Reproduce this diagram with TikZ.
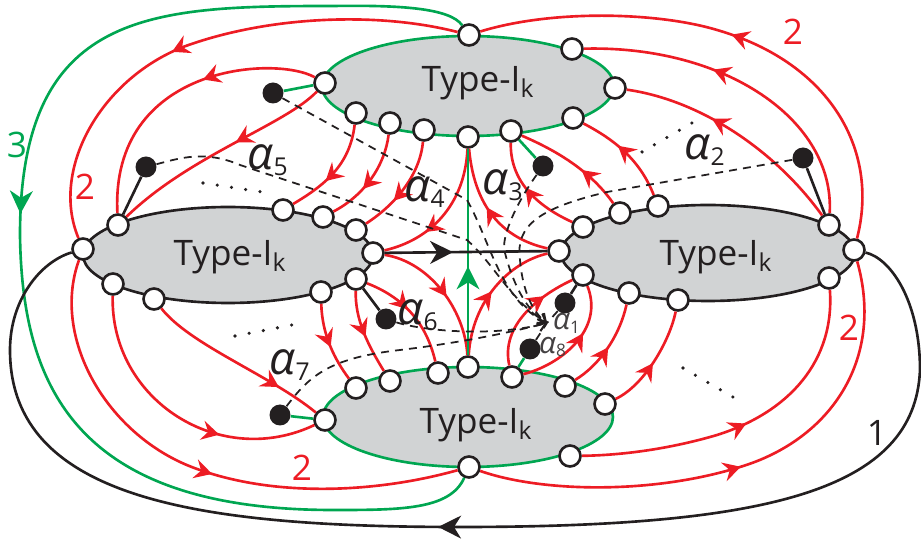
\documentclass[tikz,border=0pt]{standalone}
\usepackage{fontspec}
\setsansfont{Open Sans}
\usetikzlibrary{arrows.meta, decorations.markings, shapes.geometric}
\definecolor{redln}{HTML}{ED1C24}
\definecolor{grnln}{HTML}{00A651}
\definecolor{blkln}{HTML}{231F20}
\definecolor{blobfill}{HTML}{D1D3D4}
\newcommand{\typelabel}{\textsf{Type-I\textsubscript{k}}}
\newcommand{\alab}[1]{{\fontsize{26}{28}\selectfont\textit{α}}\textsubscript{#1}}
\newcommand{\alabsm}[1]{{\fontsize{17}{19}\selectfont\textit{α}}\textsubscript{#1}}
\tikzset{
    wire/.style={line width=1.5pt, blkln},
    midtip/.style={postaction={decorate}, decoration={markings, mark=at position #1 with {\arrow{Stealth[length=10pt, width=11pt, inset=3.5pt]}}}},
    bigtip/.style={postaction={decorate}, decoration={markings, mark=at position #1 with {\arrow{Stealth[length=13pt, width=13pt, inset=4pt]}}}},
    redwire/.style={wire, redln, midtip=#1},
    port/.style={circle, draw=blkln, fill=white, line width=1.5pt, minimum size=0.42cm, inner sep=0pt},
    puncture/.style={circle, fill=blkln, minimum size=0.42cm, inner sep=0pt},
    blob/.style={ellipse, fill=blobfill, line width=1.5pt, inner sep=0pt},
    cut/.style={line width=1pt, blkln, dash pattern=on 4.5pt off 3.5pt},
    dotrow/.style={line width=2pt, blkln, line cap=round, dash pattern=on 0pt off 8.2pt},
    lab/.style={inner sep=0pt, font=\fontsize{20}{22}\selectfont\sffamily},
    alabel/.style={inner sep=0pt, blkln, font=\fontsize{20}{24}\selectfont\sffamily},
    smalabel/.style={inner sep=0pt, blkln!85, font=\fontsize{14}{16}\selectfont\sffamily},
}

\begin{document}
\begin{tikzpicture}[x=0.02cm, y=-0.02cm]
    \useasboundingbox (0,0) rectangle (921,540);

    % the four blobs
    \node[blob, draw=grnln, minimum width=5.84cm, minimum height=2.0cm] (btop) at (468,86) {};
    \node[blob, draw=blkln, minimum width=5.8cm, minimum height=1.92cm] (bleft) at (228,255) {};
    \node[blob, draw=blkln, minimum width=5.88cm, minimum height=1.92cm] (bright) at (708,253) {};
    \node[blob, draw=grnln, minimum width=5.8cm, minimum height=2.0cm] (bbot) at (468,417) {};
    \node[lab, blkln] (ltop) at (478,83) {\typelabel};
    \node[lab, blkln] (lleft) at (230,257) {\typelabel};
    \node[lab, blkln] (lright) at (716,257) {\typelabel};
    \node[lab, blkln] (lbot) at (476,425) {\typelabel};

    % punctures
    \node[puncture] (dtop) at (273,93) {};
    \node[puncture] (dleft) at (146,167) {};
    \node[puncture] (dright) at (803,158) {};
    \node[puncture] (dtopb) at (543,166) {};
    \node[puncture] (dbot) at (280,415) {};
    \node[puncture] (dleftb) at (386,319) {};
    \node[puncture] (drightb) at (565,303) {};
    \node[puncture] (dbotb) at (530,349) {};

    % ports, top blob
    \node[port] (t1) at (325,83) {};
    \node[port] (t2) at (356,113) {};
    \node[port] (t3) at (390,123) {};
    \node[port] (t4) at (424,130) {};
    \node[port] (t5) at (468,137) {};
    \node[port] (t6) at (511,131) {};
    \node[port] (t7) at (573,118) {};
    \node[port] (t8) at (615,88) {};
    \node[port] (t9) at (572,49) {};
    \node[port] (t10) at (469,35) {};
    % ports, left blob
    \node[port] (l1) at (83,249) {};
    \node[port] (l2) at (118,225) {};
    \node[port] (l3) at (283,210) {};
    \node[port] (l4) at (323,217) {};
    \node[port] (l5) at (356,230) {};
    \node[port] (l6) at (373,253) {};
    \node[port] (l7) at (356,279) {};
    \node[port] (l8) at (321,292) {};
    \node[port] (l9) at (154,299) {};
    \node[port] (l10) at (113,284) {};
    % ports, right blob
    \node[port] (r1) at (559,251) {};
    \node[port] (r2) at (583,227) {};
    \node[port] (r3) at (620,213) {};
    \node[port] (r4) at (658,206) {};
    \node[port] (r5) at (829,225) {};
    \node[port] (r6) at (854,250) {};
    \node[port] (r7) at (829,278) {};
    \node[port] (r8) at (678,300) {};
    \node[port] (r9) at (629,293) {};
    \node[port] (r10) at (583,275) {};
    % ports, bottom blob
    \node[port] (b1) at (325,420) {};
    \node[port] (b2) at (356,388) {};
    \node[port] (b3) at (390,381) {};
    \node[port] (b4) at (438,373) {};
    \node[port] (b5) at (468,367) {};
    \node[port] (b6) at (512,377) {};
    \node[port] (b7) at (565,386) {};
    \node[port] (b8) at (605,404) {};
    \node[port] (b9) at (570,456) {};
    \node[port] (b10) at (469,467) {};

    % sticks to the punctures
    \draw[wire] (l2) -- (dleft);
    \draw[wire] (r5) -- (dright);
    \draw[wire] (l7) -- (dleftb);
    \draw[wire] (r10) -- (drightb);
    \draw[wire, grnln] (t1) -- (dtop);
    \draw[wire, grnln] (t6) -- (dtopb);
    \draw[wire, grnln] (b1) -- (dbot);
    \draw[wire, grnln] (b6) -- (dbotb);

    % long outer lines
    \draw[wire, grnln, bigtip=0.47] (t10) .. controls (450,8) and (400,5) .. (333,6) .. controls (150,6) and (20,10) .. (20,235) .. controls (22,385) and (75,510) .. (333,510) .. controls (400,510) and (450,510) .. (b10);
    \draw[wire, bigtip=0.52] (r6) .. controls (890,258) and (920,300) .. (920,370) .. controls (915,490) and (770,527) .. (460,527) .. controls (200,527) and (10,500) .. (10,350) .. controls (10,300) and (40,262) .. (l1);
    \draw[redwire=0.56] (t10) .. controls (380,12) and (270,15) .. (183,47) .. controls (100,80) and (50,170) .. (l1);
    \draw[redwire=0.51] (r6) .. controls (880,150) and (830,60) .. (710,28) .. controls (650,12) and (550,10) .. (t10);
    \draw[redwire=0.53] (l1) .. controls (50,340) and (110,440) .. (200,470) .. controls (280,498) and (380,492) .. (b10);
    \draw[redwire=0.50] (b10) .. controls (540,492) and (650,495) .. (740,467) .. controls (830,440) and (885,360) .. (r6);
    \draw[redwire=0.50] (b9) .. controls (640,455) and (690,443) .. (717,435) .. controls (790,412) and (835,360) .. (r7);

    % red lines between blobs
    \draw[redwire=0.40] (t1) .. controls (275,55) and (110,65) .. (l2);
    \draw[redwire=0.42] (t1) .. controls (285,125) and (190,155) .. (l2);
    \draw[redwire=0.62] (t2) .. controls (350,165) and (325,185) .. (l3);
    \draw[redwire=0.62] (t3) .. controls (385,165) and (365,195) .. (l4);
    \draw[redwire=0.65] (t4) .. controls (420,175) and (395,205) .. (l5);
    \draw[redwire=0.68] (t5) .. controls (465,205) and (430,240) .. (l6);
    \draw[redwire=0.55] (l6) .. controls (430,262) and (465,310) .. (b5);
    \draw[redwire=0.45] (l7) .. controls (410,300) and (428,330) .. (b4);
    \draw[redwire=0.55] (l7) .. controls (355,320) and (368,345) .. (b3);
    \draw[redwire=0.55] (l8) .. controls (322,335) and (335,360) .. (b2);
    \draw[redwire=0.76] (l9) .. controls (190,345) and (270,375) .. (b1);
    \draw[redwire=0.66] (l10) .. controls (110,400) and (220,470) .. (b1);
    \draw[redwire=0.48] (b8) .. controls (645,385) and (670,340) .. (r8);
    \draw[redwire=0.50] (b7) .. controls (600,365) and (620,335) .. (r9);
    \draw[redwire=0.60] (b6) .. controls (560,365) and (605,330) .. (r10);
    \draw[redwire=0.72] (b6) .. controls (500,325) and (540,295) .. (r10);
    \draw[redwire=0.50] (b5) .. controls (472,300) and (510,262) .. (r1);
    \draw[redwire=0.55] (r1) .. controls (510,240) and (475,215) .. (t5);
    \draw[redwire=0.55] (r2) .. controls (535,205) and (510,180) .. (t6);
    \draw[redwire=0.40] (r3) .. controls (590,170) and (555,150) .. (t6);
    \draw[redwire=0.60] (r4) .. controls (640,160) and (615,140) .. (t7);
    \draw[redwire=0.62] (r5) .. controls (775,150) and (700,100) .. (t8);
    \draw[redwire=0.60] (r5) .. controls (835,120) and (725,45) .. (t9);

    % the two straight lines through the middle
    \draw[wire, grnln, bigtip=0.43] (b5) -- (t5);
    \draw[wire, bigtip=0.42] (l6) -- (r1);

    % cuts running to the tip
    \coordinate (tipa) at (547,323);
    \draw[cut, -{Straight Barb[length=4pt, width=7pt]}] (dtop) -- (467,200) .. controls (490,240) and (500,300) .. (tipa);
    \draw[cut, -{Straight Barb[length=4pt, width=7pt]}] (dleft) .. controls (180,158) and (205,150) .. (240,165) -- (467,240) .. controls (495,265) and (510,300) .. (tipa);
    \draw[cut, -{Straight Barb[length=4pt, width=7pt]}] (dtopb) .. controls (515,205) and (500,240) .. (505,253) .. controls (512,280) and (525,310) .. (tipa);
    \draw[cut, -{Straight Barb[length=4pt, width=7pt]}] (dright) -- (607,192) .. controls (540,208) and (515,225) .. (520,260) .. controls (522,285) and (530,310) .. (tipa);
    \draw[cut, -{Straight Barb[length=4pt, width=7pt]}] (dleftb) .. controls (420,330) and (490,338) .. (tipa);
    \draw[cut, -{Straight Barb[length=4pt, width=7pt]}] (dbot) .. controls (310,375) and (330,358) .. (400,350) .. controls (450,344) and (500,335) .. (tipa);
    \draw[cut] (drightb) -- (tipa);
    \draw[cut] (dbotb) -- (tipa);

    % rows of dots
    \coordinate (da) at (203,183);
    \coordinate (db) at (262,192);
    \coordinate (dc) at (235,336);
    \coordinate (dd) at (292,325);
    \coordinate (de) at (642,152);
    \coordinate (df) at (692,123);
    \coordinate (dg) at (683,368);
    \coordinate (dh) at (733,397);
    \draw[dotrow] (da) -- (db);
    \draw[dotrow] (dc) -- (dd);
    \draw[dotrow] (de) -- (df);
    \draw[dotrow] (dg) -- (dh);

    % labels
    \node[lab, grnln] (n3) at (17,145) {3};
    \node[lab, redln] (n2a) at (85,187) {2};
    \node[lab, redln] (n2b) at (793,32) {2};
    \node[lab, redln] (n2c) at (849,328) {2};
    \node[lab, redln] (n2d) at (302,468) {2};
    \node[lab, blkln] (n1) at (877,433) {1};
    \node[alabel] (a2) at (705,150) {\alab{2}};
    \node[alabel] (a3) at (503,185) {\alab{3}};
    \node[alabel] (a4) at (425,192) {\alab{4}};
    \node[alabel] (a5) at (268,160) {\alab{5}};
    \node[alabel] (a6) at (418,315) {\alab{6}};
    \node[alabel] (a7) at (290,365) {\alab{7}};
    \node[smalabel] (a1) at (567,323) {\alabsm{1}};
    \node[smalabel] (a8) at (553,347) {\alabsm{8}};
\end{tikzpicture}
\end{document}
